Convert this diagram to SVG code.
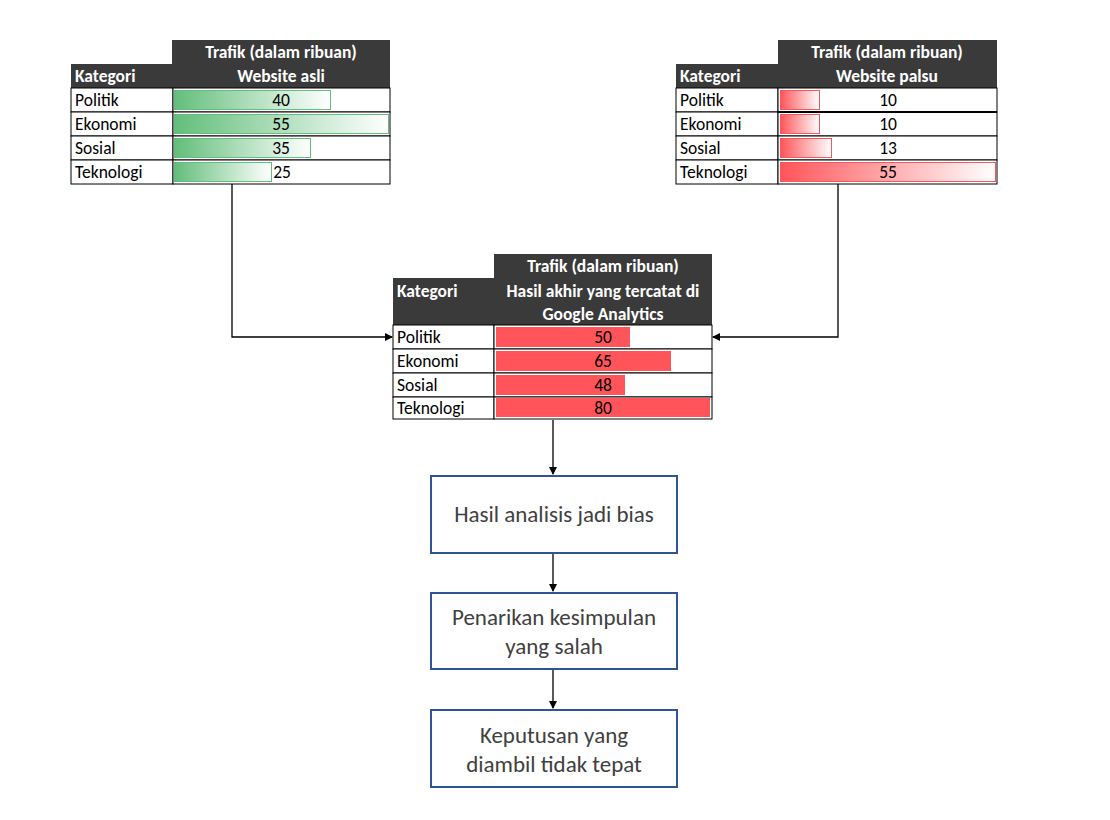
<svg xmlns="http://www.w3.org/2000/svg" width="1110" height="820" viewBox="0 0 1110 820">
<style>
text{font-family:Calibri,"Carlito","Liberation Sans",sans-serif}
.hd{fill:#3a3a3a}
.ht{fill:#fff;font-weight:bold;font-size:17.5px;text-anchor:middle}
.hl{fill:#fff;font-weight:bold;font-size:17.5px}
.c{fill:#fff;stroke:#000;stroke-width:1}
.t{fill:#000;font-size:17.5px}
.n{fill:#000;font-size:17.5px;text-anchor:middle}
.box{fill:#fff;stroke:#2F5597;stroke-width:2}
.bt{fill:#404040;font-size:23px;text-anchor:middle}
.ln{fill:none;stroke:#000;stroke-width:1.3}
</style>
<defs>
<linearGradient id="g" x1="0" x2="1"><stop offset="0" stop-color="#63BE7B"/><stop offset="1" stop-color="#fff"/></linearGradient>
<linearGradient id="r" x1="0" x2="1"><stop offset="0" stop-color="#FF555A"/><stop offset="1" stop-color="#fff"/></linearGradient>
<marker id="a" markerWidth="8" markerHeight="8" refX="7" refY="4" orient="auto" markerUnits="userSpaceOnUse"><path d="M0,0L8,4L0,8z" fill="#000"/></marker>
</defs>
<g id="tabel-asli">
<rect class="hd" x="172" y="40" width="218" height="24"/>
<rect class="hd" x="71" y="64" width="319" height="24"/>
<text class="ht" x="281" y="58">Trafik (dalam ribuan)</text>
<text class="hl" x="75" y="82">Kategori</text>
<text class="ht" x="281" y="82">Website asli</text>
<rect class="c" x="71" y="88" width="102" height="24"/><rect class="c" x="173" y="88" width="217" height="24"/>
<rect class="c" x="71" y="112" width="102" height="24"/><rect class="c" x="173" y="112" width="217" height="24"/>
<rect class="c" x="71" y="136" width="102" height="24"/><rect class="c" x="173" y="136" width="217" height="24"/>
<rect class="c" x="71" y="160" width="102" height="24"/><rect class="c" x="173" y="160" width="217" height="24"/>
<rect x="174.5" y="90.5" width="156" height="19" fill="url(#g)" stroke="#63BE7B"/>
<rect x="174.5" y="114.5" width="214" height="19" fill="url(#g)" stroke="#63BE7B"/>
<rect x="174.5" y="138.5" width="136" height="19" fill="url(#g)" stroke="#63BE7B"/>
<rect x="174.5" y="162.5" width="97" height="19" fill="url(#g)" stroke="#63BE7B"/>
<text class="t" x="75" y="106">Politik</text><text class="n" x="281" y="106">40</text>
<text class="t" x="75" y="130">Ekonomi</text><text class="n" x="281" y="130">55</text>
<text class="t" x="75" y="154">Sosial</text><text class="n" x="281" y="154">35</text>
<text class="t" x="75" y="178">Teknologi</text><text class="n" x="282" y="178">25</text>
</g>
<g id="tabel-palsu">
<rect class="hd" x="778" y="40" width="219" height="24"/>
<rect class="hd" x="676" y="64" width="321" height="24"/>
<text class="ht" x="887" y="58">Trafik (dalam ribuan)</text>
<text class="hl" x="680" y="82">Kategori</text>
<text class="ht" x="887" y="82">Website palsu</text>
<rect class="c" x="676" y="88" width="102" height="24"/><rect class="c" x="778" y="88" width="219" height="24"/>
<rect class="c" x="676" y="112" width="102" height="24"/><rect class="c" x="778" y="112" width="219" height="24"/>
<rect class="c" x="676" y="136" width="102" height="24"/><rect class="c" x="778" y="136" width="219" height="24"/>
<rect class="c" x="676" y="160" width="102" height="24"/><rect class="c" x="778" y="160" width="219" height="24"/>
<line x1="778" y1="112" x2="997" y2="112" stroke="#000" stroke-width="2"/>
<rect x="780.5" y="90.5" width="39" height="19" fill="url(#r)" stroke="#FF555A"/>
<rect x="780.5" y="114.5" width="39" height="19" fill="url(#r)" stroke="#FF555A"/>
<rect x="780.5" y="138.5" width="51" height="19" fill="url(#r)" stroke="#FF555A"/>
<rect x="780.5" y="162.5" width="215" height="19" fill="url(#r)" stroke="#FF555A"/>
<text class="t" x="680" y="106">Politik</text><text class="n" x="888" y="106">10</text>
<text class="t" x="680" y="130">Ekonomi</text><text class="n" x="888" y="130">10</text>
<text class="t" x="680" y="154">Sosial</text><text class="n" x="888" y="154">13</text>
<text class="t" x="680" y="178">Teknologi</text><text class="n" x="888" y="178">55</text>
</g>
<g id="tabel-ga">
<rect class="hd" x="494" y="254" width="218" height="24"/>
<rect class="hd" x="393" y="278" width="319" height="47"/>
<text class="ht" x="603" y="272">Trafik (dalam ribuan)</text>
<text class="hl" x="397" y="297">Kategori</text>
<text class="ht" x="603" y="297">Hasil akhir yang tercatat di</text>
<text class="ht" x="603" y="320">Google Analytics</text>
<rect class="c" x="393" y="325" width="101" height="24"/><rect class="c" x="494" y="325" width="218" height="24"/>
<rect class="c" x="393" y="349" width="101" height="24"/><rect class="c" x="494" y="349" width="218" height="24"/>
<rect class="c" x="393" y="373" width="101" height="24"/><rect class="c" x="494" y="373" width="218" height="24"/>
<rect class="c" x="393" y="397" width="101" height="22"/><rect class="c" x="494" y="397" width="218" height="22"/>
<rect x="496" y="327" width="134" height="20" fill="#FF555A"/>
<rect x="496" y="351" width="175" height="20" fill="#FF555A"/>
<rect x="496" y="375" width="129" height="20" fill="#FF555A"/>
<rect x="496" y="398" width="214" height="19" fill="#FF555A"/>
<text class="t" x="397" y="343">Politik</text><text class="n" x="603" y="343">50</text>
<text class="t" x="397" y="367">Ekonomi</text><text class="n" x="603" y="367">65</text>
<text class="t" x="397" y="391">Sosial</text><text class="n" x="603" y="391">48</text>
<text class="t" x="397" y="414">Teknologi</text><text class="n" x="603" y="414">80</text>
</g>
<g id="bias"><rect class="box" x="431" y="476" width="246" height="77"/><text class="bt" x="554" y="522">Hasil analisis jadi bias</text></g>
<g id="kesimpulan"><rect class="box" x="431" y="593" width="246" height="76"/><text class="bt" x="554" y="625">Penarikan kesimpulan</text><text class="bt" x="554" y="654">yang salah</text></g>
<g id="keputusan"><rect class="box" x="431" y="710" width="246" height="77"/><text class="bt" x="554" y="743">Keputusan yang</text><text class="bt" x="554" y="772">diambil tidak tepat</text></g>
<g id="connectors">
<path class="ln" d="M232,184V337H392" marker-end="url(#a)"/>
<path class="ln" d="M838,184V337H713" marker-end="url(#a)"/>
<path class="ln" d="M553,420V474" marker-end="url(#a)"/>
<path class="ln" d="M553,554V591" marker-end="url(#a)"/>
<path class="ln" d="M553,670V708" marker-end="url(#a)"/>
</g>
</svg>
